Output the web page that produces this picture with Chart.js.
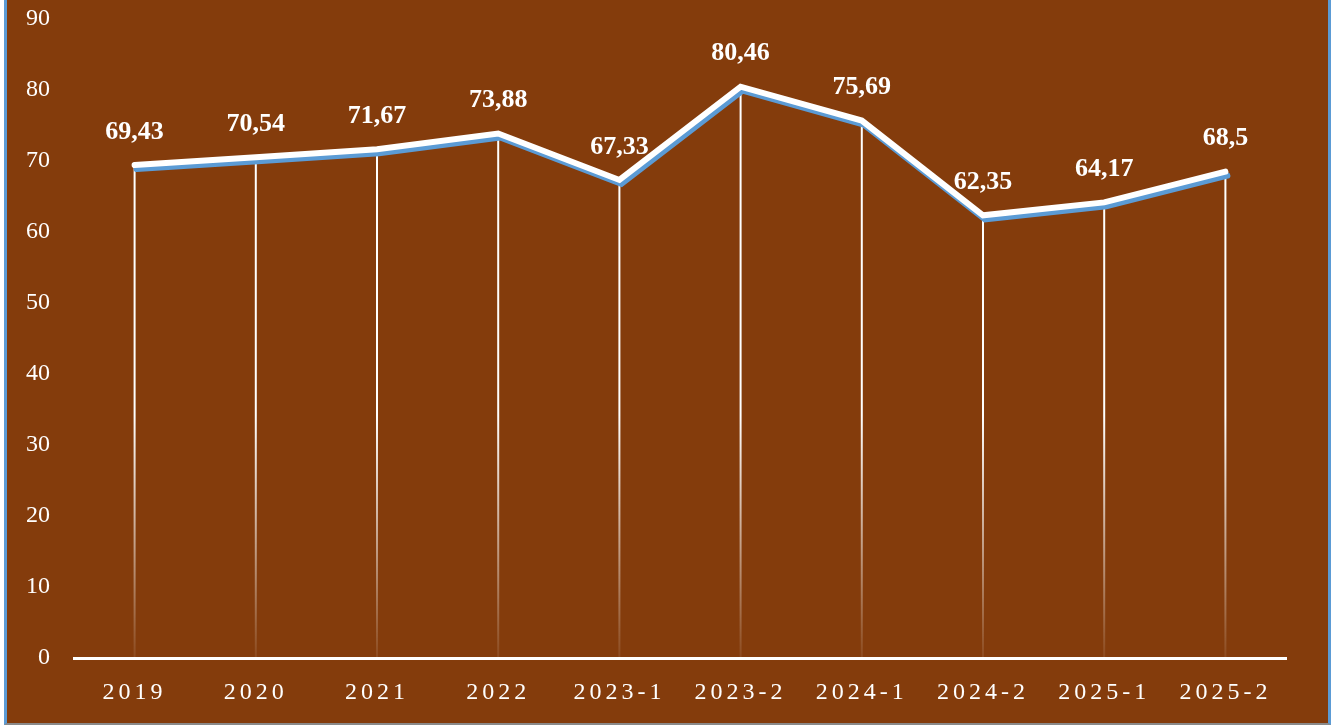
<!DOCTYPE html>
<html>
<head>
<meta charset="utf-8">
<script src="https://cdn.jsdelivr.net/npm/chart.js@4/dist/chart.umd.min.js"></script>
<style>
    body { margin: 0; background: #ffffff; }
    #wrap {
        position: absolute; left: 4px; top: 0;
        width: 1321px; height: 723px;
        background: #843C0C;
        border-left: 3px solid #5B9BD5;
        border-right: 3px solid #5B9BD5;
        border-bottom: 2px solid #8a8a8a;
    }
</style>
</head>
<body>
<div id="wrap"><canvas id="lineChart" width="1321" height="723"></canvas></div>
<script>
const periods = ['2019', '2020', '2021', '2022', '2023-1', '2023-2', '2024-1', '2024-2', '2025-1', '2025-2'];
const values = [69.43, 70.54, 71.67, 73.88, 67.33, 80.46, 75.69, 62.35, 64.17, 68.5];
const yTicks = [0, 10, 20, 30, 40, 50, 60, 70, 80, 90];

const serif = '"Liberation Serif", "Times New Roman", serif';

// letter spacing only for the category labels (x axis drawn in first layer)
const spacingPlugin = {
    id: 'spacing',
    beforeDraw(chart) { chart.ctx.letterSpacing = '4px'; },
    beforeDatasetsDraw(chart) { chart.ctx.letterSpacing = '0px'; }
};

// vertical drop lines from each point down to the axis
const dropLines = {
    id: 'dropLines',
    beforeDatasetsDraw(chart) {
        const ctx = chart.ctx;
        const area = chart.chartArea;
        const yBase = chart.scales.y.getPixelForValue(0);
        const grad = ctx.createLinearGradient(0, area.top, 0, yBase);
        grad.addColorStop(0, 'rgba(255,255,255,1)');
        grad.addColorStop(0.62, 'rgba(255,255,255,1)');
        grad.addColorStop(1, 'rgba(255,255,255,0.08)');
        ctx.save();
        ctx.strokeStyle = grad;
        ctx.lineWidth = 2;
        chart.getDatasetMeta(0).data.forEach(pt => {
            ctx.beginPath();
            ctx.moveTo(pt.x, pt.y);
            ctx.lineTo(pt.x, yBase);
            ctx.stroke();
        });
        ctx.restore();
    }
};

// blue offset shadow under the white line
const lineShadow = {
    id: 'lineShadow',
    beforeDatasetDraw(chart) {
        const ctx = chart.ctx;
        ctx.save();
        ctx.shadowColor = '#5B9BD5';
        ctx.shadowOffsetX = 2;
        ctx.shadowOffsetY = 4;
        ctx.shadowBlur = 0;
    },
    afterDatasetDraw(chart) {
        chart.ctx.restore();
    }
};

// value labels above the points
const valueLabels = {
    id: 'valueLabels',
    afterDatasetsDraw(chart) {
        const ctx = chart.ctx;
        ctx.save();
        ctx.letterSpacing = '0px';
        ctx.fillStyle = '#ffffff';
        ctx.font = 'bold 26px ' + serif;
        ctx.textAlign = 'center';
        ctx.textBaseline = 'middle';
        chart.getDatasetMeta(0).data.forEach((pt, i) => {
            const txt = String(values[i]).replace('.', ',');
            ctx.fillText(txt, pt.x, pt.y - 33);
        });
        ctx.restore();
    }
};

new Chart(document.getElementById('lineChart'), {
    type: 'line',
    data: {
        labels: periods,
        datasets: [{
            data: values,
            borderColor: '#ffffff',
            borderWidth: 6,
            borderCapStyle: 'round',
            pointRadius: 0,
            tension: 0,
            fill: false,
            clip: false
        }]
    },
    options: {
        responsive: false,
        animation: false,
        layout: { padding: { top: 19, right: 42, left: 0, bottom: 0 } },
        plugins: {
            legend: { display: false },
            tooltip: { enabled: false }
        },
        scales: {
            x: {
                offset: true,
                grid: { display: false, drawTicks: false },
                border: { display: true, color: '#ffffff', width: 3 },
                ticks: {
                    color: '#ffffff',
                    font: { family: serif, size: 24 },
                    padding: 20,
                    maxRotation: 0
                },
                afterFit(scale) {
                    scale.height = 65;
                    scale.paddingLeft = 0;
                    scale.paddingRight = 0;
                }
            },
            y: {
                min: 0,
                max: 90,
                afterBuildTicks(scale) { scale.ticks = yTicks.map(v => ({ value: v })); },
                grid: { display: false, drawTicks: false },
                border: { display: false },
                ticks: {
                    z: 1,
                    color: '#ffffff',
                    font: { family: serif, size: 24 },
                    padding: 24
                },
                afterFit(scale) {
                    scale.width = 67;
                    scale.paddingTop = 0;
                    scale.paddingBottom = 0;
                }
            }
        }
    },
    plugins: [spacingPlugin, dropLines, lineShadow, valueLabels]
});
</script>
</body>
</html>
